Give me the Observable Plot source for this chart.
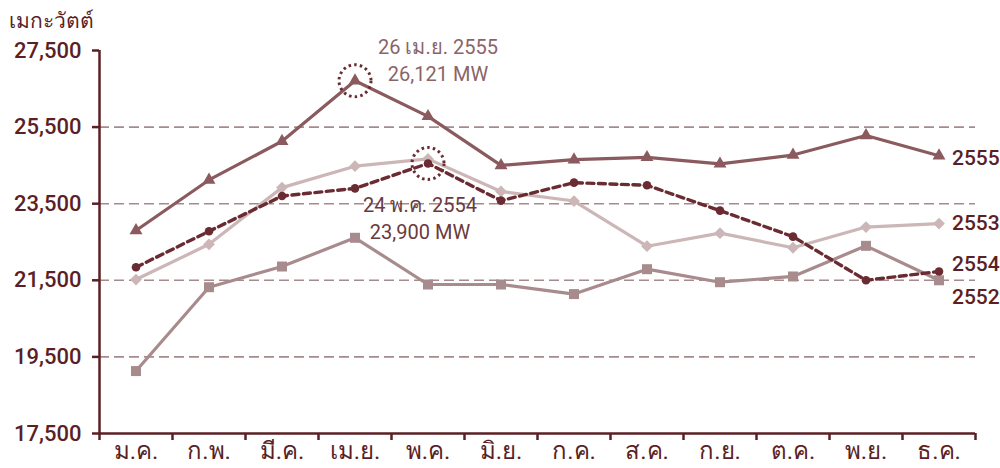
<!DOCTYPE html>
<html>
<head>
<meta charset="utf-8">
<script src="https://cdn.jsdelivr.net/npm/d3@7"></script>
<script src="https://cdn.jsdelivr.net/npm/@observablehq/plot@0.6"></script>
<style>
  html, body { margin: 0; padding: 0; background: #fff; }
  #chart svg { font-family: Roboto, "Noto Sans", sans-serif; }
</style>
</head>
<body>
<div id="chart"></div>
<script>
const months = ["ม.ค.","ก.พ.","มี.ค.","เม.ย.","พ.ค.","มิ.ย.","ก.ค.","ส.ค.","ก.ย.","ต.ค.","พ.ย.","ธ.ค."];
const years = ["2555","2553","2554","2552"];
const v2555 = [22800, 24120, 25130, 26710, 25780, 24500, 24650, 24710, 24540, 24770, 25280, 24750];
const v2553 = [21520, 22440, 23920, 24480, 24670, 23820, 23570, 22390, 22730, 22350, 22890, 22980];
const v2554 = [21840, 22780, 23700, 23900, 24550, 23580, 24050, 23980, 23320, 22640, 21500, 21730];
const v2552 = [19130, 21320, 21860, 22610, 21390, 21390, 21140, 21790, 21450, 21600, 22400, 21500];
const yTicks = [17500, 19500, 21500, 23500, 25500, 27500];
const gridTicks = [19500, 21500, 23500, 25500];
const yTitle = "เมกะวัตต์";
const peak2555 = {month: 3, value: v2555[3], label: "26 เม.ย. 2555\n26,121 MW"};
const peak2554 = {month: 4, value: v2554[4], label: "24 พ.ค. 2554\n23,900 MW"};

const C = {
  axis: "#5b1f25",
  grid: "#a68a8c",
  s2555: "#8a5a5e",
  s2553: "#ccb6b7",
  s2554: "#6a2c32",
  s2552: "#a88b8d"
};

const series = {"2555": v2555, "2553": v2553, "2554": v2554, "2552": v2552};
const toRows = (y) => series[y].map((v, i) => ({x: i + 0.5, y: v, year: y, month: months[i]}));
const r2555 = toRows("2555"), r2553 = toRows("2553"), r2554 = toRows("2554"), r2552 = toRows("2552");
const lastRow = (y) => [{x: 11.5, y: series[y][11], year: y}];
const labelDy = {"2555": 2, "2553": 0, "2554": -7, "2552": 17};

const endLabels = years.map(y => Plot.text(lastRow(y), {x: "x", y: "y", text: "year", dx: 13, dy: labelDy[y],
  textAnchor: "start", fill: C.axis, fontSize: 21, fontWeight: 500}));

const chart = Plot.plot({
  width: 1000,
  height: 468,
  marginLeft: 99,
  marginRight: 25,
  marginTop: 50,
  marginBottom: 35,
  style: {fontFamily: 'Roboto, "Noto Sans", sans-serif', background: "#fff"},
  x: {type: "linear", domain: [0, 12]},
  y: {domain: [17500, 27500]},
  marks: [
    Plot.ruleY(gridTicks, {stroke: C.grid, strokeWidth: 1.6, strokeDasharray: "10,5"}),
    Plot.ruleY([17500], {stroke: C.axis, strokeWidth: 2.5}),
    Plot.ruleX([0], {stroke: C.axis, strokeWidth: 2.5}),
    Plot.axisY({ticks: yTicks, tickFormat: d3.format(","), tickSize: 7, tickPadding: 11,
      stroke: C.axis, strokeWidth: 2.5, fill: C.axis, fontSize: 22, fontWeight: 500, label: null}),
    Plot.axisX({ticks: d3.range(0, 13), tickFormat: () => "", tickSize: 7, stroke: C.axis, strokeWidth: 2.5, label: null}),
    Plot.axisX({ticks: d3.range(12).map(i => i + 0.5), tickFormat: d => months[Math.floor(d)], tickSize: 0,
      tickPadding: 8, fill: C.axis, fontSize: 24, fontWeight: 400, label: null}),
    Plot.text([yTitle], {frameAnchor: "top-left", dx: -91, dy: -37, text: d => d, fill: C.axis,
      fontSize: 21, fontWeight: 400, textAnchor: "start", lineAnchor: "top"}),

    Plot.line(r2552, {x: "x", y: "y", stroke: C.s2552, strokeWidth: 3.2}),
    Plot.dot(r2552, {x: "x", y: "y", symbol: "square", r: 5.64, fill: C.s2552}),
    Plot.line(r2553, {x: "x", y: "y", stroke: C.s2553, strokeWidth: 3.2}),
    Plot.dot(r2553, {x: "x", y: "y", symbol: "diamond2", r: 5.3, fill: C.s2553, stroke: "none"}),
    Plot.line(r2555, {x: "x", y: "y", stroke: C.s2555, strokeWidth: 3.2}),
    Plot.dot(r2555, {x: "x", y: "y", symbol: "triangle", r: 4.8, fill: C.s2555}),
    Plot.line(r2554, {x: "x", y: "y", stroke: C.s2554, strokeWidth: 3.4, strokeDasharray: "7,4.5"}),
    Plot.dot(r2554, {x: "x", y: "y", symbol: "circle", r: 4.3, fill: C.s2554}),

    Plot.dot([peak2555, peak2554], {x: d => d.month + 0.5, y: "value", r: 16, fill: "none",
      stroke: C.s2554, strokeWidth: 3, strokeDasharray: "2.5,3.2"}),
    Plot.text([peak2555], {x: d => d.month + 0.5, y: "value", text: "label", dx: 83, dy: -22,
      fill: "#8b6467", fontSize: 20, fontWeight: 400, lineHeight: 1.35}),
    Plot.text([peak2554], {x: d => d.month + 0.5, y: "value", text: "label", dx: -8, dy: 53,
      fill: "#6b3a3e", fontSize: 20, fontWeight: 400, lineHeight: 1.35}),

    ...endLabels
  ]
});
document.getElementById("chart").appendChild(chart);
</script>
</body>
</html>
